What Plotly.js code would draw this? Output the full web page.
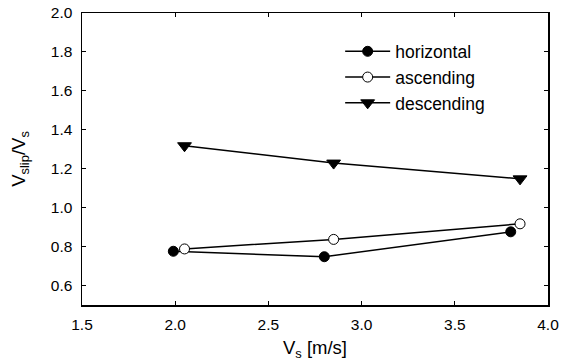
<!DOCTYPE html>
<html>
<head>
<meta charset="utf-8">
<script src="https://cdn.plot.ly/plotly-3.0.1.min.js"></script>
<style>html,body{margin:0;padding:0;background:#fff}#chart{width:561px;height:364px}</style>
</head>
<body>
<div id="chart"></div>
<script>
const seriesNames = ["horizontal", "ascending", "descending"];
const horizontalX = [1.99, 2.80, 3.80];
const horizontalY = [0.776, 0.748, 0.876];
const ascendingX = [2.05, 2.85, 3.85];
const ascendingY = [0.788, 0.837, 0.917];
const descendingX = [2.05, 2.85, 3.85];
const descendingY = [1.318, 1.229, 1.148];
const xTicks = [1.5, 2.0, 2.5, 3.0, 3.5, 4.0];
const yTicks = [0.6, 0.8, 1.0, 1.2, 1.4, 1.6, 1.8, 2.0];

const FONT = "Liberation Sans, Arial, sans-serif";
const lineStyle = {color: "black", width: 1.5};
const traces = [
  {x: horizontalX, y: horizontalY, name: seriesNames[0], mode: "lines+markers",
   line: lineStyle, marker: {symbol: "circle", size: 10, color: "black", line: {color: "black", width: 1}}},
  {x: ascendingX, y: ascendingY, name: seriesNames[1], mode: "lines+markers",
   line: lineStyle, marker: {symbol: "circle", size: 10, color: "white", line: {color: "black", width: 1}}},
  {x: descendingX, y: descendingY, name: seriesNames[2], mode: "lines+markers",
   line: lineStyle, marker: {symbol: "triangle-down", size: 12, color: "black", line: {color: "black", width: 1}}}
];

const axisCommon = {
  showline: true, linecolor: "black", linewidth: 1.5, mirror: "ticks",
  ticks: "inside", ticklen: 4, tickwidth: 1, tickcolor: "black",
  showgrid: false, zeroline: false,
  tickfont: {family: FONT, size: 15.5, color: "black"},
  tickformat: ".1f", ticklabelstandoff: 5
};

const layout = {
  width: 561, height: 364,
  margin: {l: 82, r: 13, t: 13, b: 59},
  paper_bgcolor: "white", plot_bgcolor: "white",
  font: {family: FONT, color: "black"},
  showlegend: true,
  legend: {x: 0.554, y: 0.93, xanchor: "left", yanchor: "top",
    font: {family: FONT, size: 17.5, color: "black"},
    bgcolor: "rgba(0,0,0,0)", itemwidth: 45, tracegroupgap: 0},
  xaxis: Object.assign({}, axisCommon, {
    range: [1.5, 4.0], tickvals: xTicks,
    title: {text: "V<sub>s</sub> [m/s]", font: {family: FONT, size: 18.5, color: "black"}, standoff: 9}
  }),
  yaxis: Object.assign({}, axisCommon, {
    range: [0.5, 2.0], tickvals: yTicks,
    title: {text: "V<sub>slip</sub>/V<sub>s</sub>", font: {family: FONT, size: 18.5, color: "black"}, standoff: 20}
  })
};

Plotly.newPlot("chart", traces, layout, {displayModeBar: false, staticPlot: true});
</script>
</body>
</html>
